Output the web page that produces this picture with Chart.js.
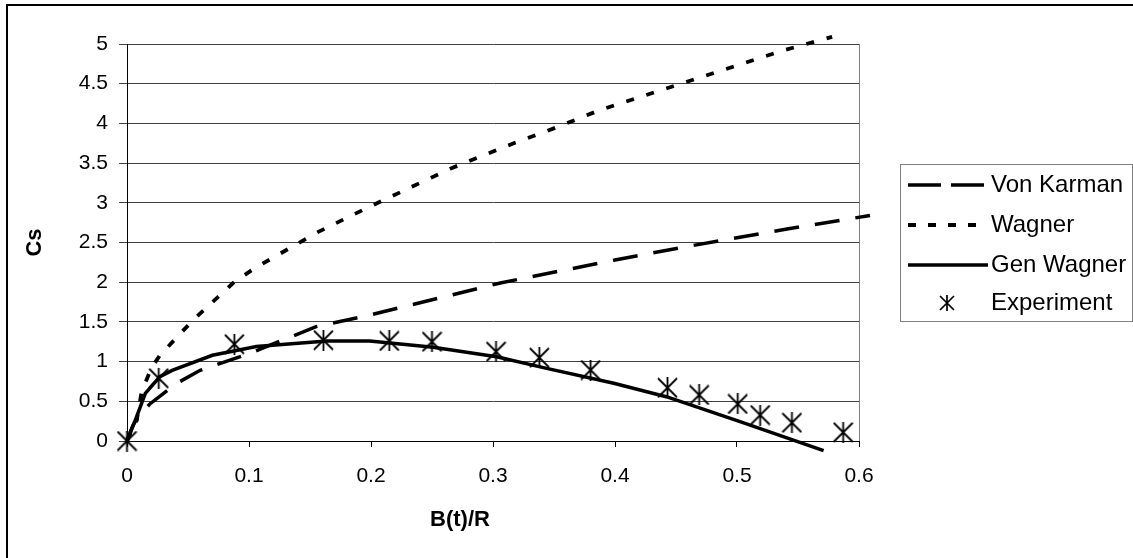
<!DOCTYPE html>
<html>
<head>
<meta charset="utf-8">
<script src="https://cdn.jsdelivr.net/npm/chart.js@4.4.1/dist/chart.umd.min.js"></script>
<style>
  html, body { margin: 0; padding: 0; background: #fff; }
  #wrap { width: 1133px; height: 558px; }
</style>
</head>
<body>
<div id="wrap"><canvas id="chart" width="1133" height="558"></canvas></div>
<script>
// --- data ---
const seriesNames = ['Von Karman', 'Wagner', 'Gen Wagner', 'Experiment'];

const vkX = [0, 0.005, 0.01, 0.019, 0.04, 0.06, 0.1, 0.155, 0.2, 0.306, 0.4, 0.463, 0.541, 0.609];
const vkY = [0, 0.2, 0.32, 0.47, 0.72, 0.89, 1.10, 1.44, 1.59, 1.99, 2.28, 2.46, 2.67, 2.84];

const wgX = [0, 0.008, 0.012, 0.020, 0.027, 0.054, 0.087, 0.104, 0.155, 0.196, 0.265, 0.303, 0.317, 0.352, 0.388, 0.464, 0.538, 0.578];
const wgY = [0, 0.26, 0.62, 0.92, 1.08, 1.52, 1.99, 2.17, 2.62, 2.93, 3.43, 3.665, 3.75, 3.95, 4.17, 4.55, 4.92, 5.09];

const gwX = [0, 0.008, 0.015, 0.027, 0.037, 0.07, 0.106, 0.164, 0.199, 0.251, 0.303, 0.344, 0.399, 0.442, 0.5025, 0.571];
const gwY = [0, 0.31, 0.6, 0.81, 0.89, 1.08, 1.19, 1.26, 1.26, 1.18, 1.06, 0.915, 0.727, 0.558, 0.243, -0.122];

const expX = [0, 0.026, 0.088, 0.161, 0.215, 0.250, 0.3025, 0.338, 0.380, 0.443, 0.469, 0.5006, 0.519, 0.545, 0.587];
const expY = [0, 0.79, 1.22, 1.27, 1.26, 1.25, 1.125, 1.05, 0.894, 0.67, 0.58, 0.466, 0.327, 0.23, 0.11];

const xTickLabels = ['0', '0.1', '0.2', '0.3', '0.4', '0.5', '0.6'];
const yTickLabels = ['0', '0.5', '1', '1.5', '2', '2.5', '3', '3.5', '4', '4.5', '5'];

const xTitle = 'B(t)/R';
const yTitle = 'Cs';

// --- layout ---
const W = 1133, H = 558;
const PLOT = { left: 127, top: 44, right: 859, bottom: 441 };
const FONT = "'Liberation Sans', Arial, sans-serif";

function pts(xs, ys) {
    return xs.map((x, i) => ({ x: x, y: ys[i] }));
}

// asterisk marker: X with a vertical bar
function makeStar(w, h, lw) {
    const c = document.createElement('canvas');
    c.width = w + 2;
    c.height = h + 2;
    const g = c.getContext('2d');
    g.strokeStyle = '#000';
    g.lineWidth = lw;
    g.beginPath();
    g.moveTo(1, 1); g.lineTo(w + 1, h + 1);
    g.moveTo(w + 1, 1); g.lineTo(1, h + 1);
    g.moveTo(c.width / 2, 0); g.lineTo(c.width / 2, h + 2);
    g.stroke();
    return c;
}
const starBig = makeStar(19, 19, 1.8);
const starSmall = makeStar(14, 14, 1.7);

// frame, plot border, x title, legend
const decorPlugin = {
    id: 'decor',
    beforeDraw(chart) {
        const ctx = chart.ctx;
        const a = chart.chartArea;
        ctx.save();
        ctx.fillStyle = '#fff';
        ctx.fillRect(0, 0, W, H);
        ctx.strokeStyle = '#000';
        ctx.lineWidth = 2;
        ctx.beginPath();
        ctx.moveTo(7, H + 5);
        ctx.lineTo(7, 5);
        ctx.lineTo(W + 5, 5);
        ctx.stroke();
        ctx.strokeStyle = '#808080';
        ctx.lineWidth = 1;
        ctx.beginPath();
        ctx.moveTo(Math.round(a.right) + 0.5, a.top);
        ctx.lineTo(Math.round(a.right) + 0.5, a.bottom);
        ctx.stroke();
        ctx.restore();
    },
    afterDraw(chart) {
        const ctx = chart.ctx;
        ctx.save();
        ctx.fillStyle = '#000';
        ctx.font = 'bold 22px ' + FONT;
        ctx.textAlign = 'center';
        ctx.textBaseline = 'middle';
        ctx.fillText(xTitle, 460, 520);

        // legend
        const box = { left: 900, top: 164, right: 1132, bottom: 321 };
        const rows = [185, 225, 265, 303];
        ctx.strokeStyle = '#808080';
        ctx.lineWidth = 1;
        ctx.strokeRect(box.left + 0.5, box.top + 0.5, box.right - box.left, box.bottom - box.top);
        ctx.font = '24px ' + FONT;
        ctx.textAlign = 'left';
        chart.data.datasets.forEach((ds, i) => {
            const y = rows[i];
            if (ds.showLine === false) {
                ctx.drawImage(starSmall, Math.round(947 - starSmall.width / 2), Math.round(y - starSmall.height / 2));
            } else {
                ctx.save();
                ctx.strokeStyle = ds.borderColor;
                ctx.lineWidth = ds.borderWidth;
                ctx.setLineDash(ds.legendDash || []);
                ctx.beginPath();
                ctx.moveTo(908, y);
                ctx.lineTo(988, y);
                ctx.stroke();
                ctx.restore();
            }
            ctx.fillStyle = '#000';
            ctx.fillText(ds.label, 991, y);
        });
        ctx.restore();
    }
};

Chart.defaults.font.family = FONT;
Chart.defaults.color = '#000';

new Chart(document.getElementById('chart'), {
    type: 'line',
    data: {
        datasets: [
            {
                label: seriesNames[0],
                data: pts(vkX, vkY),
                borderColor: '#000',
                borderWidth: 3.5,
                borderDash: [25, 16],
                legendDash: [33, 10],
                pointRadius: 0,
                tension: 0,
                clip: false,
                order: 3
            },
            {
                label: seriesNames[1],
                data: pts(wgX, wgY),
                borderColor: '#000',
                borderWidth: 3.8,
                borderDash: [8, 13],
                legendDash: [8, 12],
                pointRadius: 0,
                tension: 0,
                clip: false,
                order: 2
            },
            {
                label: seriesNames[2],
                data: pts(gwX, gwY),
                borderColor: '#000',
                borderWidth: 3.5,
                pointRadius: 0,
                tension: 0,
                clip: false,
                order: 1
            },
            {
                label: seriesNames[3],
                data: pts(expX, expY),
                showLine: false,
                pointStyle: starBig,
                pointRadius: 10,
                borderColor: '#000',
                clip: false,
                order: 0
            }
        ]
    },
    options: {
        responsive: false,
        animation: false,
        devicePixelRatio: 1,
        layout: { padding: { left: 0, top: PLOT.top, right: W - PLOT.right, bottom: 0 } },
        plugins: {
            legend: { display: false },
            tooltip: { enabled: false }
        },
        scales: {
            x: {
                type: 'linear',
                min: 0,
                max: 0.6,
                afterFit: (s) => { s.height = H - PLOT.bottom; },
                ticks: {
                    stepSize: 0.1,
                    padding: 17,
                    font: { size: 21 },
                    color: '#000',
                    callback: (v, i) => xTickLabels[i]
                },
                grid: { drawOnChartArea: false, drawTicks: true, tickLength: 6, color: '#000' },
                border: { color: '#000', width: 1 }
            },
            y: {
                type: 'linear',
                min: 0,
                max: 5,
                afterFit: (s) => { s.width = PLOT.left; },
                ticks: {
                    stepSize: 0.5,
                    padding: 11,
                    font: { size: 21 },
                    color: '#000',
                    callback: (v, i) => yTickLabels[i]
                },
                grid: { color: '#404040', tickLength: 8, drawTicks: true },
                border: { color: '#000', width: 1 },
                title: {
                    display: true,
                    text: yTitle,
                    font: { size: 22, weight: 'bold' },
                    color: '#000',
                    padding: { top: 22, bottom: 0 }
                }
            }
        }
    },
    plugins: [decorPlugin]
});
</script>
</body>
</html>
